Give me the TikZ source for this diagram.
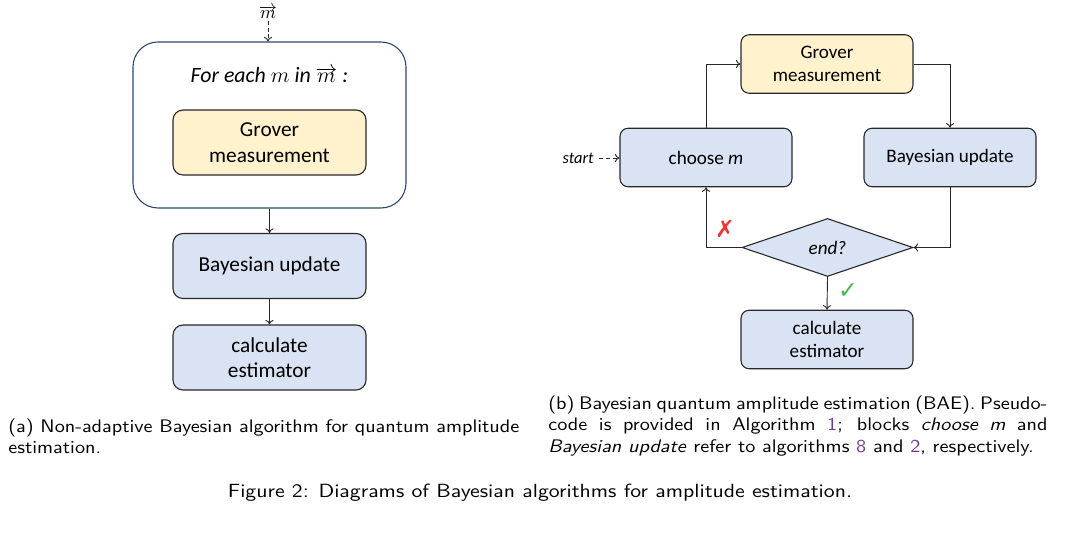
\documentclass[tikz,border=0pt]{standalone}
\usepackage{fontspec}
\newfontfamily\calibri{Carlito}
\newfontfamily\dejavu{DejaVu Sans}
\newfontfamily\capsf[FakeStretch=1.11, ItalicFont=lmsans10-oblique.otf]{lmsans10-regular.otf}
\newfontfamily\figsf[FakeStretch=1.14]{lmsans10-regular.otf}
\usetikzlibrary{shapes.geometric,arrows.meta}
\definecolor{boxblue}{RGB}{218,227,243}
\definecolor{boxyellow}{RGB}{255,242,204}
\definecolor{boxline}{RGB}{40,40,40}
\definecolor{navy}{RGB}{47,69,110}
\definecolor{linkpurple}{RGB}{110,60,150}
\definecolor{xred}{RGB}{240,50,50}
\definecolor{okgreen}{RGB}{80,176,80}
\tikzset{
  lbox/.style={draw=boxline, line width=0.6pt, rounded corners=5.5pt, fill=boxblue,
    minimum width=106.15pt, minimum height=35.75pt, align=center, inner sep=0pt,
    font=\calibri\fontsize{11.7}{14}\selectfont},
  rbox/.style={draw=boxline, line width=0.6pt, rounded corners=4.5pt, fill=boxblue,
    minimum width=94.6pt, minimum height=32.2pt, align=center, inner sep=0pt,
    font=\calibri\fontsize{10.5}{13}\selectfont},
  arr/.style={-{To[length=2.5pt,width=4.5pt]}, line width=0.5pt, draw=boxline},
  dasharr/.style={arr, dash pattern=on 2.2pt off 1.6pt},
  capfont/.style={font=\capsf\fontsize{10}{11.9}\selectfont},
  figfont/.style={font=\figsf\fontsize{10.5}{12.5}\selectfont},
  markfont/.style={font=\dejavu\fontsize{13}{15}\selectfont},
}
\begin{document}
\begin{tikzpicture}[x=0.55pt,y=-0.55pt]
\useasboundingbox (0,0) rectangle (1080,549);
% ---------- left diagram ----------
\node[draw=navy, line width=0.6pt, rounded corners=13.75pt, minimum width=150.15pt,
  minimum height=91.3pt, inner sep=0pt] (outer) at (269.5,125) {};
\node[font=\calibri\itshape\fontsize{12}{14}\selectfont] (foreach) at (269.5,75)
  {For each $m$ in $\overrightarrow{m}$ :};
\node[lbox, fill=boxyellow] (lgrover) at (269.5,142.5) {Grover\\measurement};
\node[lbox] (lbayes) at (269.5,266) {Bayesian update};
\node[lbox] (lcalc) at (269.5,357.5) {calculate\\estimator};
\node[inner sep=0.5pt] (mvec) at (268,12) {$\overrightarrow{m}$};
\draw[dasharr] (mvec.south) ++(0,1) coordinate (m0) -- (m0 |- outer.north);
\draw[arr] (outer.south) -- (lbayes.north);
\draw[arr] (lbayes.south) -- (lcalc.north);
% ---------- right diagram ----------
\node[rbox, fill=boxyellow] (grover) at (827,64) {Grover\\measurement};
\node[rbox] (choose) at (706,157.5) {choose \textit{m}};
\node[rbox] (bayes) at (950,157.5) {Bayesian update};
\node[draw=boxline, line width=0.6pt, fill=boxblue, shape=diamond, minimum width=94pt,
  minimum height=31.9pt, inner sep=0pt, font=\calibri\itshape\fontsize{10.5}{13}\selectfont]
  (end) at (827.5,247.5) {end?};
\node[rbox] (calc) at (827,339.5) {calculate\\estimator};
\node[font=\calibri\itshape\fontsize{9}{11}\selectfont, anchor=east, inner sep=0pt] (start) at (594,158) {start};
\draw[dasharr] (start.east) ++(5,0) coordinate (s0) -- (s0 -| choose.west);
\draw[arr] (choose.north) |- (grover.west);
\draw[arr] (grover.east) -| (bayes.north);
\draw[arr] (bayes.south) |- (end.east);
\draw[arr] (end.west) -| (choose.south);
\draw[arr] (end.south) -- (calc.north);
\node[markfont, text=xred] (nomark) at (725,229) {✗};
\node[markfont, text=okgreen] (okmark) at (848,291) {✓};
% ---------- captions ----------
\node[capfont, anchor=north west, inner sep=0pt, text width=281pt, align=justify] (capa) at (8,418)
  {(a) Non-adaptive Bayesian algorithm for quantum amplitude\linebreak estimation.};
\node[capfont, anchor=north west, inner sep=0pt, text width=274.5pt, align=justify] (capb) at (548,395)
  {(b) Bayesian quantum amplitude estimation (BAE). Pseudo-\linebreak code is provided in Algorithm \textcolor{linkpurple}{1}; blocks \textit{choose m} and\linebreak \textit{Bayesian update} refer to algorithms \textcolor{linkpurple}{8} and \textcolor{linkpurple}{2}, respectively.};
\node[figfont] (figcap) at (540,493) {Figure 2: Diagrams of Bayesian algorithms for amplitude estimation.};
\end{tikzpicture}
\end{document}
